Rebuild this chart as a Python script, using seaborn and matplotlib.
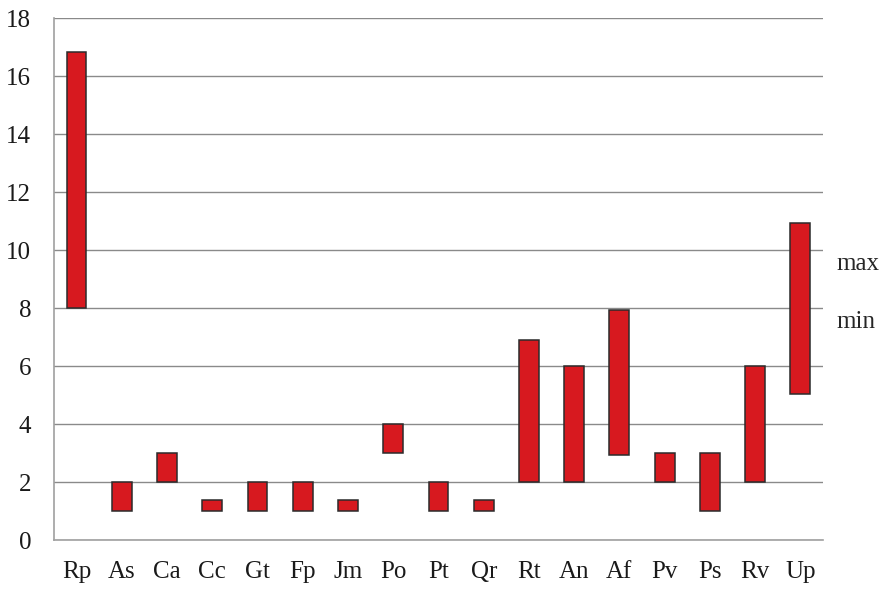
import numpy as np
import pandas as pd
import seaborn as sns
import matplotlib.pyplot as plt
from matplotlib.patches import Patch

species = ['Rp', 'As', 'Ca', 'Cc', 'Gt', 'Fp', 'Jm', 'Po', 'Pt', 'Qr',
           'Rt', 'An', 'Af', 'Pv', 'Ps', 'Rv', 'Up']
min_vals = [8, 1, 2, 1, 1, 1, 1, 3, 1, 1, 2, 2, 2.95, 2, 1, 2, 5.05]
max_vals = [16.85, 2, 3, 1.4, 2, 2, 1.4, 4, 2, 1.4, 6.9, 6, 7.95, 3, 3, 6, 10.95]

df = pd.DataFrame({'species': species, 'min': min_vals, 'max': max_vals})
df['span'] = df['max'] - df['min']

sns.set_style('white')
plt.rcParams['font.family'] = ['Liberation Serif', 'DejaVu Serif']
plt.rcParams['font.size'] = 18

fig = plt.figure(figsize=(8.84, 5.89), dpi=100)
ax = fig.add_axes([0.061, 0.083, 0.870, 0.886])

sns.barplot(data=df, x='species', y='span', bottom=df['min'].values, ax=ax,
            color='#D7191F', saturation=1, width=0.44,
            edgecolor='#2b2b2b', linewidth=1.1, zorder=3)

ax.set_ylim(0, 18)
ax.set_xlim(-0.5, len(species) - 0.5)
ax.set_yticks(np.arange(0, 19, 2))
ax.yaxis.grid(True, color='#8a8a8a', linewidth=1, zorder=0)
ax.set_axisbelow(True)

ax.set_xticks(np.arange(-0.5, len(species), 1), minor=True)
ax.tick_params(axis='x', which='major', length=0, pad=15)
ax.tick_params(axis='x', which='minor', length=6.5, color='#9a9a9a', width=1, direction='out')
ax.tick_params(axis='y', which='major', length=6.5, color='#8a8a8a', width=1, direction='out', pad=10)
ax.tick_params(axis='both', labelsize=18, labelcolor='#1a1a1a')

for side in ['top', 'right']:
    ax.spines[side].set_visible(False)
for side in ['left', 'bottom']:
    ax.spines[side].set_color('#a0a0a0')
    ax.spines[side].set_linewidth(1.2)

ax.set_xlabel('')
ax.set_ylabel('')

handles = [Patch(facecolor='none', edgecolor='none'), Patch(facecolor='none', edgecolor='none')]
ax.legend(handles, ['max', 'min'], frameon=False, handlelength=0, handletextpad=0,
          labelspacing=1.45, fontsize=18, loc='center left', borderpad=0,
          borderaxespad=0, bbox_to_anchor=(1.018, 0.474))

fig.savefig('out.png', dpi=100)
